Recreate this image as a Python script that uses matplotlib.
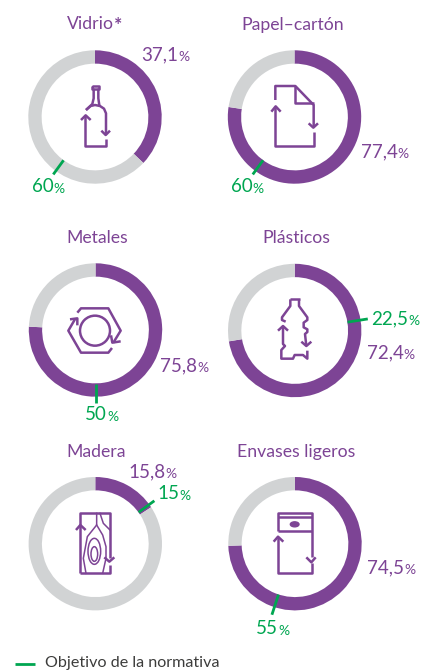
import numpy as np
import matplotlib
matplotlib.use("Agg")
import matplotlib.pyplot as plt
from matplotlib.patches import Ellipse, Circle

plt.rcParams['font.family'] = ['Lato', 'DejaVu Sans']

# Chart data
materials = ['Vidrio', 'Papel\u2013cartón', 'Metales', 'Plásticos', 'Madera', 'Envases ligeros']
recycled = [37.1, 77.4, 75.8, 72.4, 15.8, 74.5]
targets = [60, 60, 50, 22.5, 15, 55]
recycled_labels = ['37,1', '77,4', '75,8', '72,4', '15,8', '74,5']
target_labels = ['60', '60', '50', '22,5', '15', '55']

# Layout, in pixels of the 426x670 picture
centers = [(95, 117), (294.5, 117), (95.5, 330), (294.7, 330.5), (95.3, 543.7), (295, 543.7)]
title_pos = [(67, 29), (241, 30), (66, 243), (262, 243), (66, 457), (237, 457)]
recycled_pos = [(141, 60), (361, 157), (160, 371), (367, 358), (128, 477), (367, 573)]
target_pos = [(32, 192), (231, 192), (85, 420), (371, 324), (157, 499), (256, 634)]
tick_end = [71, 71, 72.5, 74, 73, 74.7]

PURPLE = '#7d4495'
GRAY = '#d1d3d4'
GREEN = '#00a651'
R = 66.7
W, H = 426, 670

fig = plt.figure(figsize=(W / 100, H / 100), dpi=100)

# overlay axes in pixel coordinates for the text and the icons
ov = fig.add_axes([0, 0, 1, 1], zorder=5)
ov.set_xlim(0, W)
ov.set_ylim(H, 0)
ov.axis('off')


def label(pos, number, color):
    # the % sign is set smaller than the number
    t = ov.text(pos[0], pos[1], number, color=color, fontsize=13.5, va='baseline', ha='left')
    ov.annotate('%', xy=(1, 0), xycoords=t, xytext=(0, 0), textcoords='offset points',
                color=color, fontsize=10, va='bottom', ha='left')


for i, name in enumerate(materials):
    cx, cy = centers[i]
    side = 2 * R * 1.25
    ax = fig.add_axes([(cx - side / 2) / W, 1 - (cy + side / 2) / H, side / W, side / H])
    ax.pie([recycled[i], 100 - recycled[i]], colors=[PURPLE, GRAY], startangle=90,
           counterclock=False, radius=1, wedgeprops={'width': 0.2, 'linewidth': 0})
    ax.set_xlim(-1.25, 1.25)
    ax.set_ylim(-1.25, 1.25)

    # target tick across the ring
    a = np.radians(90 - targets[i] * 3.6)
    r0, r1 = 53.5 / R, tick_end[i] / R
    ax.plot([r0 * np.cos(a), r1 * np.cos(a)], [r0 * np.sin(a), r1 * np.sin(a)],
            color=GREEN, lw=2, solid_capstyle='butt')

    ov.text(title_pos[i][0], title_pos[i][1], name, color=PURPLE, fontsize=12.7, va='baseline')
    label(recycled_pos[i], recycled_labels[i], PURPLE)
    label(target_pos[i], target_labels[i], GREEN)

ov.text(114, 31, '*', color=PURPLE, fontsize=14, va='baseline', fontweight='bold')

# legend
ov.plot([15, 35], [664, 664], color=GREEN, lw=2, solid_capstyle='butt')
ov.text(45, 667, 'Objetivo de la normativa', color='#3c3c3b', fontsize=11.6, va='baseline')


def icon(origin, lines):
    for line in lines:
        xs = [origin[0] + p[0] / 3 for p in line]
        ys = [origin[1] + p[1] / 3 for p in line]
        ov.plot(xs, ys, color=PURPLE, lw=1.8, solid_joinstyle='round', solid_capstyle='butt')


# bottle
icon((0, 0), [
    [(277, 258), (298, 258), (298, 266), (277, 266), (277, 258)],
    [(281, 266), (281, 295), (277, 312), (258, 330)],
    [(258, 330), (272, 318), (285, 315), (300, 318), (312, 326), (318, 340), (318, 403)],
    [(295, 266), (295, 295), (298, 316)],
    [(318, 418), (318, 438), (255, 438), (255, 348)],
    [(243, 360), (257, 346), (272, 360)],
    [(304, 392), (317, 405), (330, 392)],
])
# paper sheet
icon((213, 0), [
    [(187, 300), (187, 258), (247, 258), (302, 315), (302, 380)],
    [(302, 397), (302, 438), (187, 438), (187, 320)],
    [(247, 258), (247, 308), (302, 308)],
    [(175, 335), (188, 319), (203, 335)],
    [(287, 370), (301, 383), (315, 370)],
])
# nut
ov.add_patch(Circle((285 / 3, 220 + 332 / 3), 15, fill=False, ec=PURPLE, lw=1.8))
icon((0, 220), [
    [(232, 278), (243, 265), (325, 265), (362, 332), (340, 368)],
    [(336, 384), (325, 398), (243, 398), (205, 332), (226, 296)],
    [(210, 298), (232, 295), (232, 316)],
    [(362, 364), (337, 368), (333, 346)],
])
# plastic bottle
icon((213, 220), [
    [(230, 238), (260, 238)],
    [(232, 238), (232, 258), (207, 292), (207, 300), (218, 305)],
    [(258, 238), (258, 258), (283, 292), (283, 300), (272, 308), (272, 322), (283, 328), (283, 336), (276, 342), (280, 378)],
    [(210, 320), (210, 372), (216, 378), (205, 390), (205, 416), (240, 416), (245, 405), (270, 405), (283, 416), (283, 392)],
    [(195, 332), (210, 318), (225, 332)],
    [(265, 365), (280, 378), (295, 365)],
])
# wood board
ov.add_patch(Ellipse((283 / 3, 430 + 372 / 3), 20 / 3, 44 / 3, fill=False, ec=PURPLE, lw=1.1))
ov.add_patch(Ellipse((283 / 3, 430 + 364 / 3), 38 / 3, 78 / 3, fill=False, ec=PURPLE, lw=1.1))
icon((0, 430), [
    [(240, 430), (240, 290), (240, 248), (330, 248), (330, 385)],
    [(330, 405), (330, 430), (240, 430)],
    [(228, 300), (241, 285), (257, 300)],
    [(313, 382), (328, 395), (343, 382)],
])
for line in [
    [(290, 250), (290, 285), (262, 320), (250, 385), (258, 430)],
    [(290, 285), (308, 315), (318, 350), (318, 385), (308, 430)],
    [(300, 250), (310, 280), (330, 300)],
]:
    ov.plot([p[0] / 3 for p in line], [430 + p[1] / 3 for p in line], color=PURPLE, lw=1.1)
# light packaging
ov.add_patch(Ellipse((213 + 245 / 3, 430 + 283 / 3), 26 / 3, 15 / 3, color=PURPLE))
icon((213, 430), [
    [(195, 302), (195, 248), (296, 248), (296, 382)],
    [(195, 262), (296, 262)],
    [(195, 302), (296, 302)],
    [(296, 400), (296, 430), (195, 430), (195, 322)],
    [(182, 335), (195, 320), (211, 335)],
    [(280, 382), (295, 397), (308, 382)],
])

plt.savefig("out.png", dpi=100)
